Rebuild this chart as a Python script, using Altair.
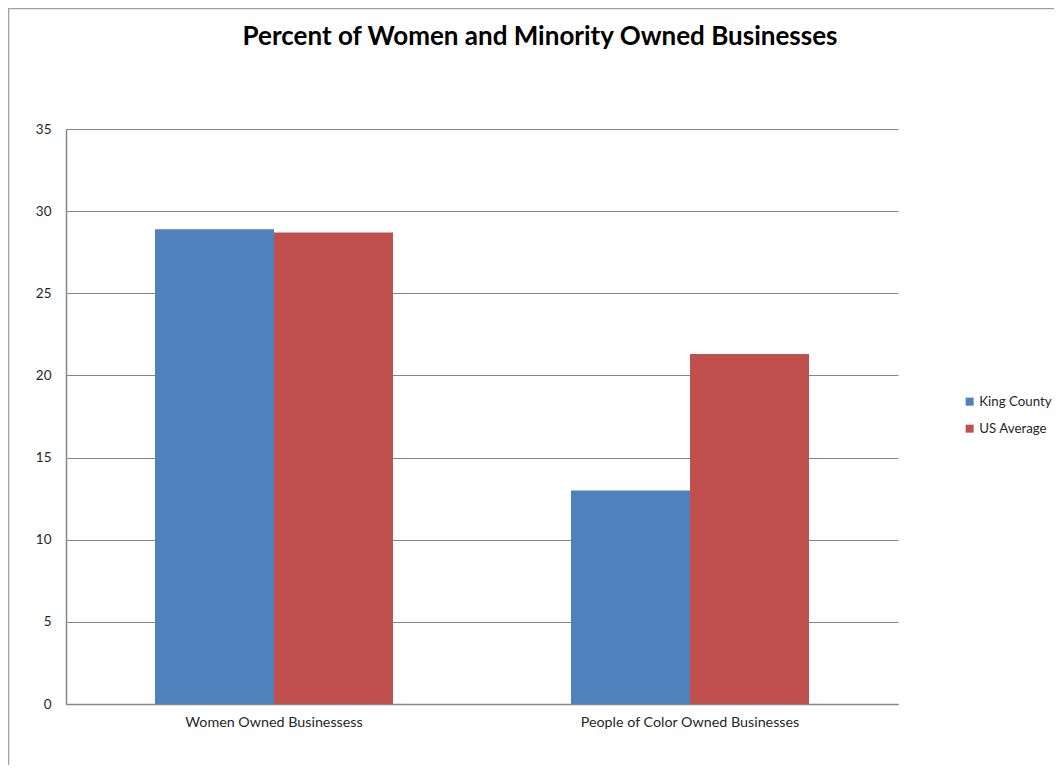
import altair as alt
import pandas as pd

categories = ["Women Owned Businessess", "People of Color Owned Businesses"]
series = ["King County", "US Average"]
king_county = [28.9, 13.0]
us_average = [28.7, 21.3]
colors = ["#4F81BD", "#C0504D"]
title_text = "Percent of Women and Minority Owned Businesses"

rows = []
for i, c in enumerate(categories):
    rows.append({"category": c, "series": series[0], "value": king_county[i]})
    rows.append({"category": c, "series": series[1], "value": us_average[i]})
df = pd.DataFrame(rows)

FONT = "Lato"
TXT = "#262626"

bars = alt.Chart(df).mark_bar().encode(
    x=alt.X("category:N", sort=categories, title=None,
            scale=alt.Scale(paddingInner=0, paddingOuter=0),
            axis=alt.Axis(labelAngle=0, ticks=False, domainColor="#868686",
                          labelPadding=11, labelFontSize=14.3, labelColor=TXT,
                          labelFont=FONT, labelLimit=600)),
    xOffset=alt.XOffset("series:N", sort=series,
                        scale=alt.Scale(paddingInner=0, paddingOuter=0.748)),
    y=alt.Y("value:Q", title=None,
            scale=alt.Scale(domain=[0, 35], nice=False),
            axis=alt.Axis(values=[0, 5, 10, 15, 20, 25, 30, 35], ticks=False,
                          domainColor="#868686", gridColor="#868686",
                          labelPadding=15, labelFontSize=13.5, labelColor=TXT,
                          labelFont=FONT)),
    color=alt.Color("series:N", sort=series,
                    scale=alt.Scale(domain=series, range=colors),
                    legend=alt.Legend(title=None, orient="none", legendX=897, legendY=266,
                                      symbolType="square", symbolSize=64,
                                      symbolStrokeWidth=0, labelFontSize=13.3,
                                      labelFont=FONT, labelColor=TXT,
                                      rowPadding=13, labelOffset=3, labelLimit=300)),
)

border = alt.Chart(pd.DataFrame({"a": [0]})).mark_rect(
    filled=False, stroke="#A0A0A0", strokeWidth=1.5, clip=False
).encode(
    x=alt.value(-57.5), x2=alt.value(1100), y=alt.value(-120.5), y2=alt.value(700)
)

title = alt.Chart(pd.DataFrame({"t": [title_text]})).mark_text(
    font=FONT, fontSize=26, fontWeight="bold", color="#000000",
    align="center", baseline="middle"
).encode(text="t:N", x=alt.value(474), y=alt.value(-92))

chart = alt.layer(border, bars, title).properties(
    width=832, height=575,
    padding={"left": 58, "top": 121, "right": 156, "bottom": 61},
    autosize=alt.AutoSizeParams(type="none"),
).configure_view(stroke=None).configure_axis(gridWidth=1, domainWidth=1.5)

chart.save("out.html", embed_options={"renderer": "svg", "actions": False})
